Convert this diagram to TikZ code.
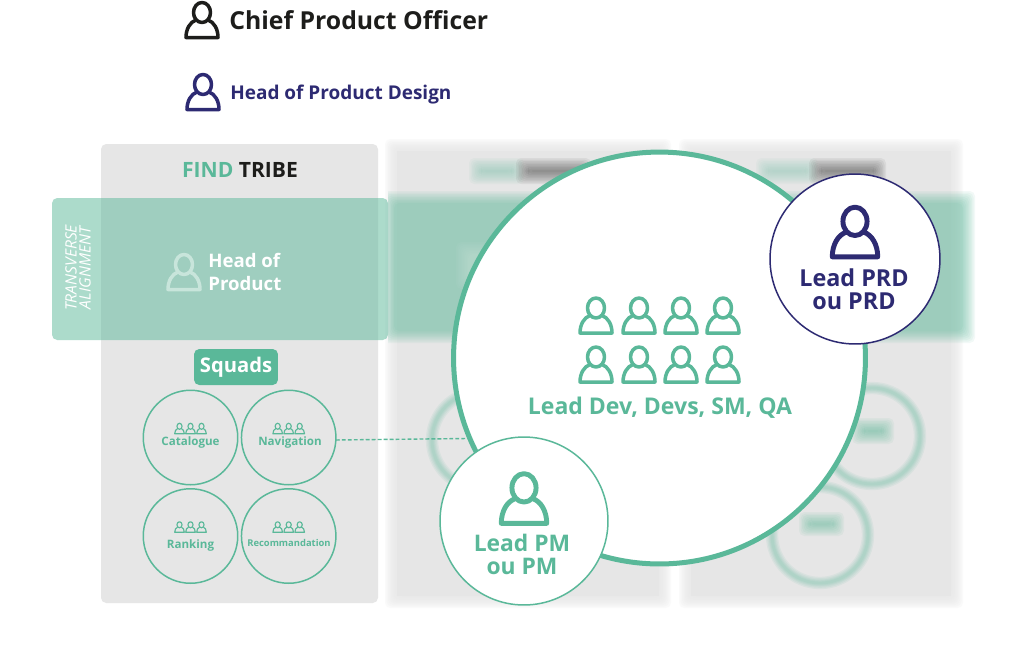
\documentclass[tikz,border=0pt]{standalone}
\usepackage{fontspec}
\setmainfont{Open Sans}
\usetikzlibrary{positioning,calc}
\definecolor{squadgreen}{HTML}{5AB899}
\definecolor{prdnavy}{HTML}{2D2A72}
\definecolor{cpoblack}{HTML}{1D1D1B}
\definecolor{panelgrey}{HTML}{E6E6E6}
\definecolor{palegreen}{HTML}{C8E5DB}
\newcommand{\textsz}[2]{\fontsize{#1}{#2}\selectfont}
\newcommand{\softbox}[6]{%
  \foreach \d in {6,4.5,3,1.5,0,-1.5,-3,-4.5,-6}
    \fill[#5, opacity=#6, rounded corners=3] ({#1-\d},{#2-\d}) rectangle ({#3+\d},{#4+\d});}
\tikzset{
  person/.pic={
    \draw[pic actions, line cap=round, line join=round]
      (0,-7.5) ellipse [x radius=8.5, y radius=10]
      (-6,0) .. controls (-12,2) and (-16,9) .. (-16,17.5) -- (16,17.5) .. controls (16,9) and (12,2) .. (6,0);
  },
  iconbig/.style={scale=1.42, line width=2.8pt},
  iconmid/.style={line width=2pt},
  iconsmall/.style={scale=0.3, line width=0.65pt, draw=squadgreen},
  squad/.style={circle, draw=squadgreen, line width=0.85pt, minimum size=1.89cm, inner sep=0pt, outer sep=0pt},
  squadname/.style={text=squadgreen, font=\bfseries\textsz{6.6}{8}},
  rolename/.style={align=center, font=\bfseries\textsz{13.3}{13.1}, inner sep=0pt},
  softring/.style={draw=squadgreen, opacity=0.09}
}
\begin{document}
\begin{tikzpicture}[x=0.02cm, y=-0.02cm]
\useasboundingbox (0,0) rectangle (1024,657);
\fill[white] (0,0) rectangle (1024,657);

% top roles
\pic[draw=cpoblack, iconmid] at (202,20) {person};
\node[anchor=west, inner sep=0pt, text=cpoblack, font=\bfseries\textsz{14.1}{15}] (cpo) at (229,20) {Chief Product Officer};
\pic[draw=prdnavy, iconmid] at (203,92) {person};
\node[anchor=west, inner sep=0pt, text=prdnavy, font=\bfseries\textsz{10.8}{13}] (hopd) at (230,94.5) {Head of Product Design};

% tribes
\fill[panelgrey, rounded corners=3] (101,144) rectangle (378,603);
\softbox{391}{145}{665}{602}{panelgrey}{0.16}
\fill[panelgrey] (397,151) rectangle (659,596);
\softbox{685}{145}{957}{602}{panelgrey}{0.16}
\fill[panelgrey] (691,151) rectangle (951,596);
\node[font=\bfseries\textsz{12}{15}, inner sep=0pt] (find) at (240,170) {\textcolor{squadgreen}{FIND} \textcolor{cpoblack}{TRIBE}};
\softbox{475}{164}{518}{178}{squadgreen!70!panelgrey}{0.08}
\softbox{522}{164}{585}{178}{cpoblack!85!panelgrey}{0.07}
\softbox{762}{164}{812}{178}{squadgreen!60!panelgrey}{0.08}
\softbox{815}{164}{880}{178}{cpoblack!85!panelgrey}{0.07}

% blurred squads
\foreach \cx/\cy in {480/440, 872/436, 820/535}
  \foreach \w in {7,5.5,4,2.8,1.6}
    \draw[softring, line width=\w pt] (\cx,\cy) circle (48);
\softbox{858}{424}{888}{438}{squadgreen}{0.08}
\softbox{805}{518}{838}{530}{squadgreen}{0.08}

% alignment band
\begin{scope}
\clip (388,180) rectangle (1000,360);
\softbox{388}{197}{969}{337}{squadgreen}{0.074}
\softbox{462}{248}{490}{283}{white}{0.03}
\end{scope}
\fill[squadgreen, opacity=0.5, rounded corners=3] (52,198) rectangle (388,340);
\node[rotate=90, align=center, text=white, font=\itshape\textsz{8.9}{8}, inner sep=0pt] (transverse) at (78,268) {TRANSVERSE\\ALIGNMENT};
\pic[draw=palegreen, iconmid] at (184,272) {person};
\node[rolename, text=white, align=left, anchor=west, font=\bfseries\textsz{10.6}{13.1}] (hop) at (208,272) {Head of\\Product};

% find squads
\node[fill=squadgreen, rounded corners=3, text=white, minimum width=1.68cm, minimum height=0.72cm, inner sep=0pt, font=\bfseries\textsz{11.5}{13}] (squads) at (236,367) {Squads};
\node[squad] (catalogue) at (190.5,437.5) {};
\node[squad] (navigation) at (288.7,437.5) {};
\node[squad] (ranking) at (190.5,536) {};
\node[squad] (recommandation) at (288.7,536) {};
\node[squadname] at (190.5,442.5) {Catalogue};
\node[squadname] at (290,442.5) {Navigation};
\node[squadname] at (190.5,545) {Ranking};
\node[squadname, font=\bfseries\textsz{5.35}{6}] at (289,543) {Recommandation};
\foreach \cx/\cy in {190.5/428.5, 288.7/428.5, 190.5/527, 288.7/527}
  \foreach \dx in {-11,0,11}
    \pic[iconsmall] at (\cx+\dx,\cy) {person};

% selected squad
\node[circle, fill=white, draw=squadgreen, line width=2.85pt, minimum size=8.24cm, inner sep=0pt, outer sep=0pt] (squadzoom) at (659.5,358) {};
\draw[squadgreen, line width=0.8pt, dash pattern=on 2.2pt off 1.2pt] (navigation.-3) -- (squadzoom.203.3);
\foreach \py in {315.5,364.5}
  \foreach \px in {596,639,681,723}
    \pic[draw=squadgreen, iconmid] at (\px,\py) {person};
\node[text=squadgreen, inner sep=0pt, font=\bfseries\textsz{13.1}{14}] (team) at (660,407.5) {Lead Dev, Devs, SM, QA};

\node[circle, fill=white, draw=prdnavy, line width=0.85pt, minimum size=3.4cm, inner sep=0pt, outer sep=0pt] (prdzoom) at (855,259) {};
\pic[draw=prdnavy, iconbig] at (855,232) {person};
\node[rolename, text=prdnavy] (prd) at (854,289) {Lead PRD\\ou PRD};

\node[circle, fill=white, draw=squadgreen, line width=0.85pt, minimum size=3.36cm, inner sep=0pt, outer sep=0pt] (pmzoom) at (524,521) {};
\pic[draw=squadgreen, iconbig] at (524,498.5) {person};
\node[rolename, text=squadgreen, font=\bfseries\textsz{13}{13.1}] (pm) at (522,554) {Lead PM\\ou PM};
\end{tikzpicture}
\end{document}
